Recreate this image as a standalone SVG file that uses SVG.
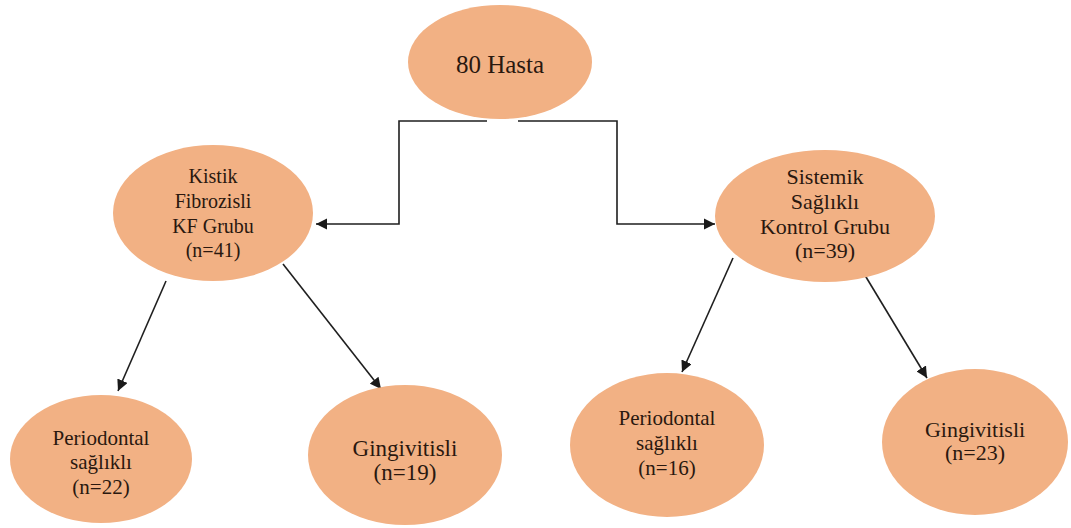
<svg xmlns="http://www.w3.org/2000/svg" width="1071" height="528" viewBox="0 0 1071 528">
<defs>
<marker id="ah" viewBox="0 0 10 10" refX="10" refY="5" markerWidth="7" markerHeight="7" markerUnits="strokeWidth" orient="auto">
<path d="M0,0 L10,5 L0,10 z" fill="#1a1a1a"/>
</marker>
<style>
.n{fill:#f2b184;stroke:none}
.t{font-family:"Liberation Serif","Times New Roman",serif;fill:#2a180f;text-anchor:middle}
.c{fill:none;stroke:#1f1f1f;stroke-width:1.6}
</style>
</defs>
<rect width="1071" height="528" fill="#ffffff"/>
<g id="connectors">
<path class="c" d="M487,121 H399 V224 H316" marker-end="url(#ah)"/>
<path class="c" d="M518,121 H617 V224 H715" marker-end="url(#ah)"/>
<line class="c" x1="166" y1="281" x2="118" y2="391" marker-end="url(#ah)"/>
<line class="c" x1="283" y1="264" x2="381" y2="389" marker-end="url(#ah)"/>
<line class="c" x1="733" y1="258" x2="682" y2="372" marker-end="url(#ah)"/>
<line class="c" x1="863" y1="272" x2="927" y2="378" marker-end="url(#ah)"/>
</g>
<g id="root">
<ellipse class="n" cx="500" cy="62" rx="92" ry="57"/>
<text class="t" x="500" y="73" font-size="25">80 Hasta</text>
</g>
<g id="kf">
<ellipse class="n" cx="213" cy="213" rx="100" ry="68"/>
<text class="t" font-size="20"><tspan x="213" y="183">Kistik</tspan><tspan x="213" y="208">Fibrozisli</tspan><tspan x="213" y="233">KF Grubu</tspan><tspan x="213" y="257">(n=41)</tspan></text>
</g>
<g id="kontrol">
<ellipse class="n" cx="825" cy="216" rx="110" ry="66"/>
<text class="t" font-size="22"><tspan x="825" y="184">Sistemik</tspan><tspan x="825" y="209">Sağlıklı</tspan><tspan x="825" y="234">Kontrol Grubu</tspan><tspan x="825" y="258">(n=39)</tspan></text>
</g>
<g id="kf-periodontal">
<ellipse class="n" cx="101" cy="459" rx="91" ry="64"/>
<text class="t" font-size="21"><tspan x="101" y="445">Periodontal</tspan><tspan x="101" y="469">sağlıklı</tspan><tspan x="101" y="494">(n=22)</tspan></text>
</g>
<g id="kf-gingivitis">
<ellipse class="n" cx="405" cy="455" rx="97" ry="70"/>
<text class="t" font-size="23"><tspan x="405" y="456">Gingivitisli</tspan><tspan x="405" y="480">(n=19)</tspan></text>
</g>
<g id="kontrol-periodontal">
<ellipse class="n" cx="667" cy="445" rx="97" ry="72"/>
<text class="t" font-size="21"><tspan x="667" y="425">Periodontal</tspan><tspan x="667" y="450">sağlıklı</tspan><tspan x="667" y="475">(n=16)</tspan></text>
</g>
<g id="kontrol-gingivitis">
<ellipse class="n" cx="975" cy="442" rx="93" ry="73"/>
<text class="t" font-size="22"><tspan x="975" y="437">Gingivitisli</tspan><tspan x="975" y="460">(n=23)</tspan></text>
</g>
</svg>
